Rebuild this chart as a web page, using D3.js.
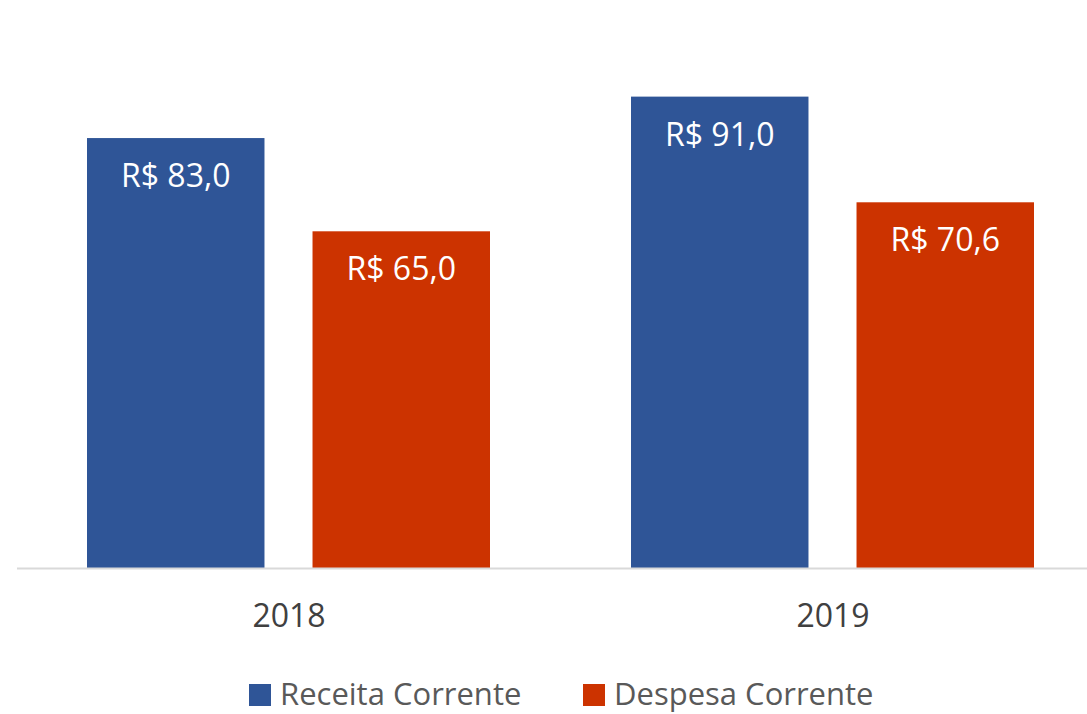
<!DOCTYPE html>
<html>
<head>
<meta charset="utf-8">
<script src="https://cdn.jsdelivr.net/npm/d3@7"></script>
<style>
  body { margin: 0; background: #fff; }
  text { font-family: "Open Sans", Lato, sans-serif; }
</style>
</head>
<body>
<svg id="chart"></svg>
<script>
// data
const years = ["2018", "2019"];
const seriesNames = ["Receita Corrente", "Despesa Corrente"];
const receita = [83.0, 91.0];
const despesa = [65.0, 70.6];
const colors = ["#2F5597", "#CC3300"];

const width = 1087, height = 714;
const svg = d3.select("#chart").attr("width", width).attr("height", height);

// scales
const x = d3.scaleBand().domain(years).range([17, 1105]).paddingInner(0).paddingOuter(0);
const xInner = d3.scaleBand().domain(seriesNames).range([70, 473]).paddingInner(0.213);
const y = d3.scaleLinear().domain([0, 100]).range([568, 50]);

const rows = years.map((yr, i) => ({ year: yr, values: [receita[i], despesa[i]] }));

const groups = svg.selectAll("g.year")
  .data(rows)
  .enter().append("g")
  .attr("class", "year")
  .attr("transform", d => `translate(${x(d.year)},0)`);

const bars = groups.selectAll("g.bar")
  .data(d => d.values.map((v, i) => ({ name: seriesNames[i], value: v, color: colors[i] })))
  .enter().append("g")
  .attr("class", "bar");

bars.append("rect")
  .attr("x", d => xInner(d.name))
  .attr("y", d => y(d.value))
  .attr("width", xInner.bandwidth())
  .attr("height", d => y(0) - y(d.value))
  .attr("fill", d => d.color);

// value labels
bars.append("text")
  .attr("x", d => xInner(d.name) + xInner.bandwidth() / 2)
  .attr("y", d => y(d.value) + 49)
  .attr("text-anchor", "middle")
  .attr("font-size", "32px")
  .attr("fill", "#fff")
  .text(d => "R$ " + d.value.toFixed(1).replace(".", ","));

// x axis line
svg.append("line")
  .attr("x1", 17).attr("x2", width)
  .attr("y1", y(0) + 0.5).attr("y2", y(0) + 0.5)
  .attr("stroke", "#d9d9d9").attr("stroke-width", 2);

// year labels
svg.selectAll("text.year")
  .data(years)
  .enter().append("text")
  .attr("class", "year")
  .attr("x", d => x(d) + x.bandwidth() / 2)
  .attr("y", 627)
  .attr("text-anchor", "middle")
  .attr("font-size", "32px")
  .attr("fill", "#404040")
  .text(d => d);

// legend
const legendX = [249, 583];
const legend = svg.selectAll("g.legend")
  .data(seriesNames)
  .enter().append("g")
  .attr("class", "legend")
  .attr("transform", (d, i) => `translate(${legendX[i]},684)`);

legend.append("rect")
  .attr("width", 22).attr("height", 22)
  .attr("fill", (d, i) => colors[i]);

legend.append("text")
  .attr("x", 31).attr("y", 21)
  .attr("font-size", "31px")
  .attr("fill", "#595959")
  .text(d => d);
</script>
</body>
</html>
